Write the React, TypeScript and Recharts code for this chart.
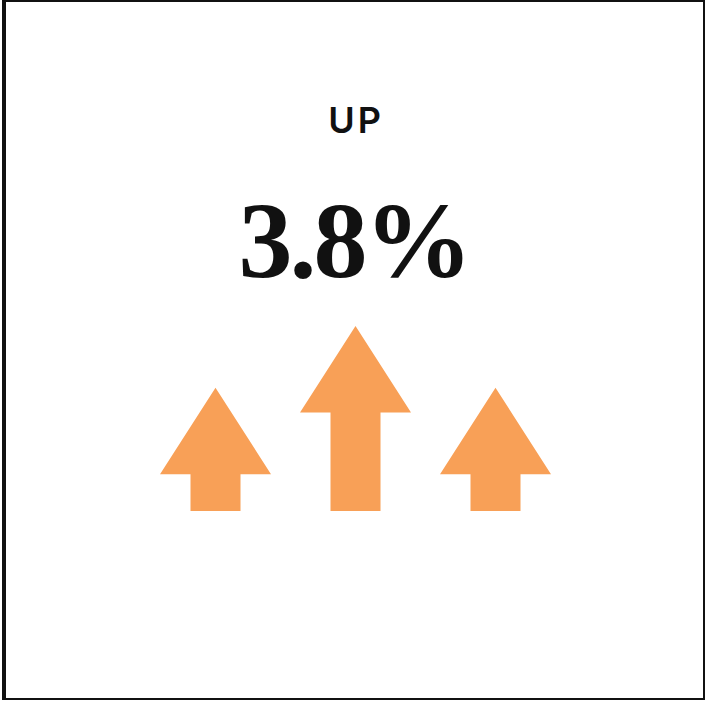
import { BarChart, Bar, XAxis, YAxis, Cell } from "recharts";

const ARROWS = ["left", "middle", "right"];
const HEIGHTS = [2, 3, 2];
const TITLE = "UP";
const VALUE = "3.8%";

const ORANGE = "#F8A057";

const data = ARROWS.map((name, i) => ({ name, value: HEIGHTS[i] }));

// arrow drawn inside the bar rectangle: full-width head, narrow shaft
function ArrowShape(props: any) {
  const { x, y, width, height, fill } = props;
  const cx = x + width / 2;
  const head = 86.5;
  const shaft = 25;
  const bottom = y + height;
  const pts = [
    [cx, y],
    [x + width, y + head],
    [cx + shaft, y + head],
    [cx + shaft, bottom],
    [cx - shaft, bottom],
    [cx - shaft, y + head],
    [x, y + head],
  ]
    .map((p) => p.join(","))
    .join(" ");
  return <polygon points={pts} fill={fill} />;
}

export default function App() {
  return (
    <div style={{ position: "fixed", left: 0, top: 0, width: 706, height: 701, background: "#fff" }}>
      <div
        style={{
          position: "absolute",
          left: 2,
          top: 0,
          width: 703,
          height: 700,
          boxSizing: "border-box",
          borderLeft: "4px solid #111",
          borderTop: "2px solid #111",
          borderRight: "2px solid #111",
          borderBottom: "2px solid #111",
        }}
      />
      <div style={{ position: "absolute", left: 0, top: 0 }}>
        <BarChart
          width={706}
          height={701}
          data={data}
          margin={{ top: 326, right: 141, bottom: 190, left: 145 }}
          barSize={111}
        >
          <XAxis dataKey="name" hide />
          <YAxis hide domain={[0, 3]} />
          <Bar dataKey="value" isAnimationActive={false} shape={<ArrowShape />}>
            {data.map((d) => (
              <Cell key={d.name} fill={ORANGE} />
            ))}
          </Bar>
        </BarChart>
      </div>
      <svg width={706} height={701} style={{ position: "absolute", left: 0, top: 0, pointerEvents: "none" }}>
        <text
          x={356}
          y={133}
          textAnchor="middle"
          fontFamily="Inter, sans-serif"
          fontWeight={600}
          fontSize={36}
          letterSpacing={3}
          fill="#111"
        >
          {TITLE}
        </text>
        <text
          x={354}
          y={277}
          textAnchor="middle"
          fontFamily="Liberation Serif, serif"
          fontWeight={700}
          fontSize={108}
          letterSpacing={-3}
          fill="#111"
        >
          {VALUE}
        </text>
      </svg>
    </div>
  );
}
